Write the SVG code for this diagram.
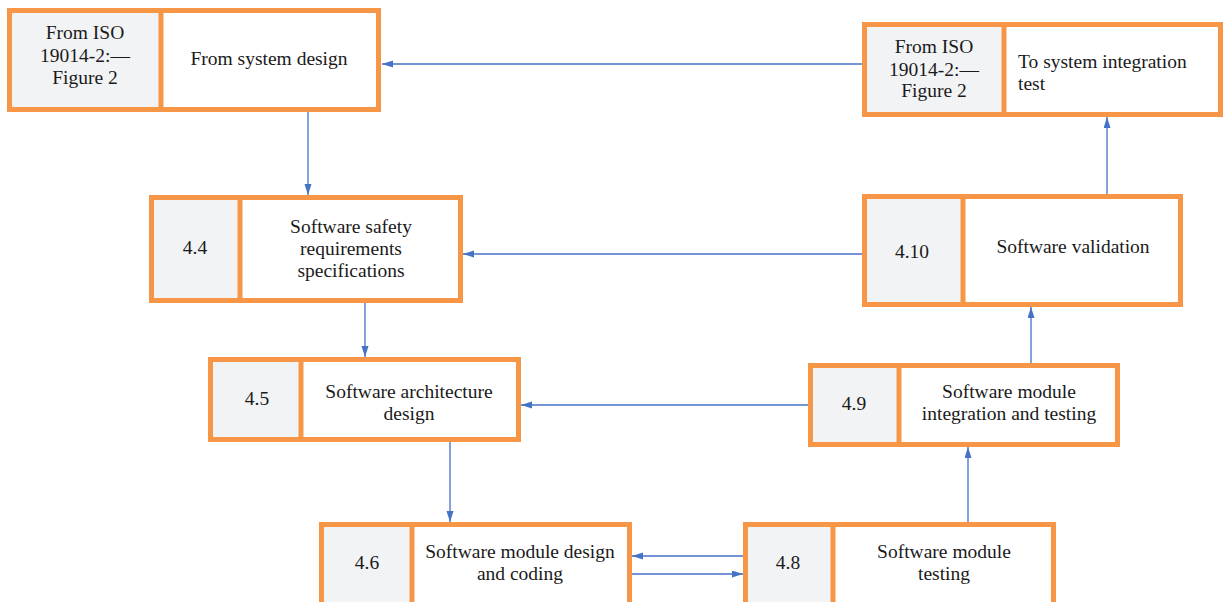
<svg xmlns="http://www.w3.org/2000/svg" width="1223" height="602" viewBox="0 0 1223 602">
<style>
.frame{fill:none;stroke:#F79646;stroke-width:5}
.div{stroke:#F79646;stroke-width:5}
.id{fill:#F2F3F5}
.body{fill:#FFFFFF}
text{font-family:"Liberation Serif","DejaVu Serif",serif;font-size:19.5px;fill:#1a1a1a}
.c{text-anchor:middle}
.conn{stroke:#4472C4;stroke-width:1.3;fill:none;marker-end:url(#ah)}
</style>
<defs>
<marker id="ah" markerUnits="userSpaceOnUse" markerWidth="12" markerHeight="8" refX="11" refY="3.5" orient="auto">
<path d="M0,0 L11,3.5 L0,7 z" fill="#4472C4"/>
</marker>
</defs>
<rect width="1223" height="602" fill="#FFFFFF"/>
<g id="connectors">
<path class="conn" d="M862,64 L382,64"/>
<path class="conn" d="M308,112 L308,195"/>
<path class="conn" d="M862,254 L463,254"/>
<path class="conn" d="M365,303 L365,357"/>
<path class="conn" d="M808,405 L521,405"/>
<path class="conn" d="M450,442 L450,522"/>
<path class="conn" d="M743,556 L632,556"/>
<path class="conn" d="M632,574 L743,574"/>
<path class="conn" d="M968,522 L968,447"/>
<path class="conn" d="M1031,363 L1031,307"/>
<path class="conn" d="M1107,194 L1107,117"/>
</g>
<g id="from-system-design">
<rect class="id" x="9.5" y="10.5" width="151.5" height="99"/>
<rect class="body" x="161" y="10.5" width="217.5" height="99"/>
<rect class="frame" x="9.5" y="10.5" width="369" height="99"/>
<line class="div" x1="161" y1="10.5" x2="161" y2="109.5"/>
<text class="c" x="85" y="39">From ISO</text>
<text class="c" x="85" y="62">19014-2:—</text>
<text class="c" x="85" y="84">Figure 2</text>
<text class="c" x="269" y="65">From system design</text>
</g>
<g id="to-system-integration-test">
<rect class="id" x="864.5" y="24.5" width="139.5" height="90"/>
<rect class="body" x="1004" y="24.5" width="216.5" height="90"/>
<rect class="frame" x="864.5" y="24.5" width="356" height="90"/>
<line class="div" x1="1004" y1="24.5" x2="1004" y2="114.5"/>
<text class="c" x="934" y="53">From ISO</text>
<text class="c" x="934" y="76">19014-2:—</text>
<text class="c" x="934" y="97">Figure 2</text>
<text x="1018" y="68">To system integration</text>
<text x="1018" y="90">test</text>
</g>
<g id="n4-4">
<rect class="id" x="151.5" y="197.5" width="88.5" height="103"/>
<rect class="body" x="240" y="197.5" width="220.5" height="103"/>
<rect class="frame" x="151.5" y="197.5" width="309" height="103"/>
<line class="div" x1="240" y1="197.5" x2="240" y2="300.5"/>
<text class="c" x="195" y="254">4.4</text>
<text class="c" x="351" y="233">Software safety</text>
<text class="c" x="351" y="255">requirements</text>
<text class="c" x="351" y="277">specifications</text>
</g>
<g id="n4-10">
<rect class="id" x="864.5" y="196.5" width="98.5" height="108"/>
<rect class="body" x="963" y="196.5" width="217.5" height="108"/>
<rect class="frame" x="864.5" y="196.5" width="316" height="108"/>
<line class="div" x1="963" y1="196.5" x2="963" y2="304.5"/>
<text class="c" x="912" y="258">4.10</text>
<text class="c" x="1073" y="253">Software validation</text>
</g>
<g id="n4-5">
<rect class="id" x="210.5" y="359.5" width="90.5" height="80"/>
<rect class="body" x="301" y="359.5" width="217.5" height="80"/>
<rect class="frame" x="210.5" y="359.5" width="308" height="80"/>
<line class="div" x1="301" y1="359.5" x2="301" y2="439.5"/>
<text class="c" x="257" y="405">4.5</text>
<text class="c" x="409" y="398">Software architecture</text>
<text class="c" x="409" y="420">design</text>
</g>
<g id="n4-9">
<rect class="id" x="810.5" y="365.5" width="88.5" height="79"/>
<rect class="body" x="899" y="365.5" width="218.5" height="79"/>
<rect class="frame" x="810.5" y="365.5" width="307" height="79"/>
<line class="div" x1="899" y1="365.5" x2="899" y2="444.5"/>
<text class="c" x="854" y="410">4.9</text>
<text class="c" x="1009" y="398">Software module</text>
<text class="c" x="1009" y="420">integration and testing</text>
</g>
<g id="n4-6">
<rect class="id" x="321.5" y="524.5" width="90.5" height="90"/>
<rect class="body" x="412" y="524.5" width="217.5" height="90"/>
<rect class="frame" x="321.5" y="524.5" width="308" height="90"/>
<line class="div" x1="412" y1="524.5" x2="412" y2="614.5"/>
<text class="c" x="367" y="569">4.6</text>
<text class="c" x="520" y="558">Software module design</text>
<text class="c" x="520" y="580">and coding</text>
</g>
<g id="n4-8">
<rect class="id" x="745.5" y="524.5" width="87.5" height="90"/>
<rect class="body" x="833" y="524.5" width="220.5" height="90"/>
<rect class="frame" x="745.5" y="524.5" width="308" height="90"/>
<line class="div" x1="833" y1="524.5" x2="833" y2="614.5"/>
<text class="c" x="788" y="569">4.8</text>
<text class="c" x="944" y="558">Software module</text>
<text class="c" x="944" y="580">testing</text>
</g>
</svg>
